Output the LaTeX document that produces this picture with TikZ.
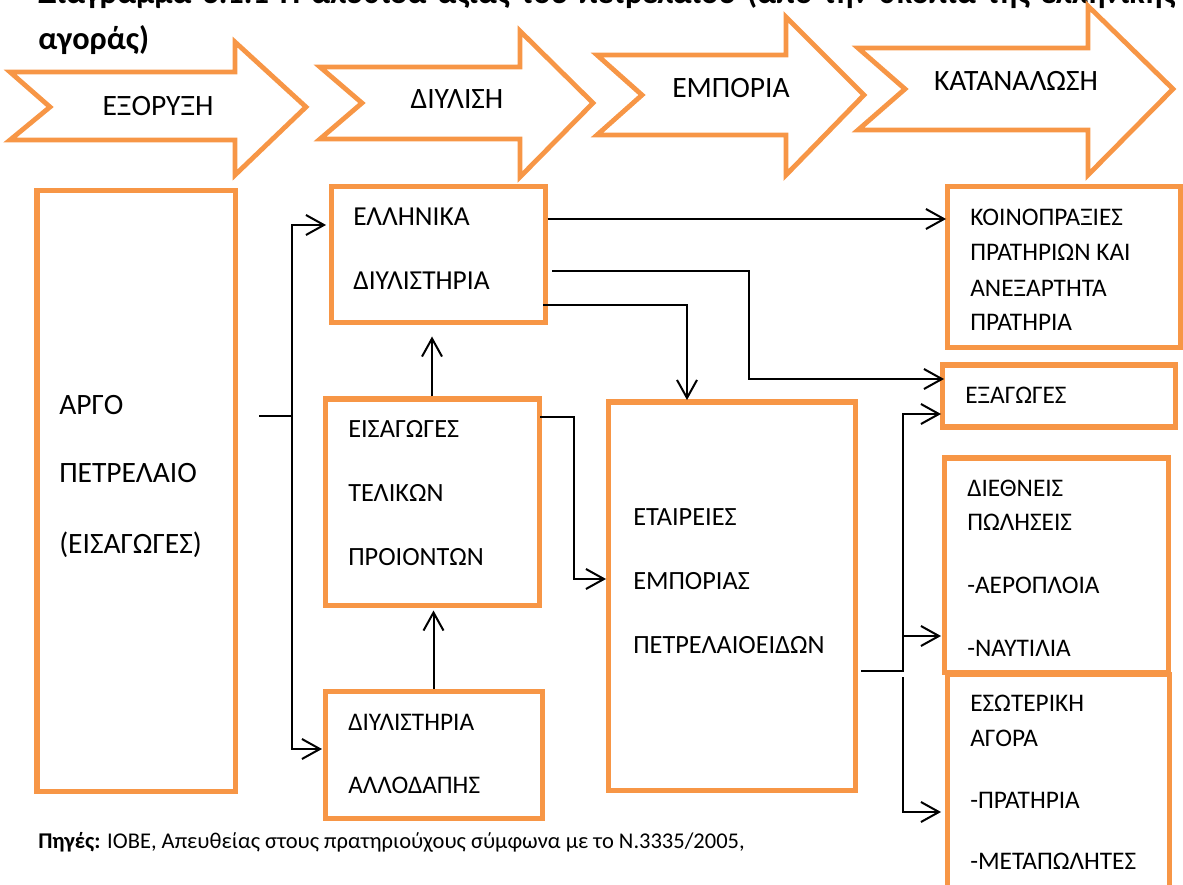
\documentclass[tikz,border=0pt]{standalone}
\usepackage{fontspec}
\setmainfont{Carlito}
\usetikzlibrary{arrows.meta,fit}

\definecolor{boxorange}{HTML}{F79646}
\tikzset{
  box/.style={draw=boxorange, line width=0.125cm, inner sep=0pt},
  stage/.style={draw=boxorange, line width=0.12cm, line join=miter},
  stagename/.style={inner sep=0pt, font=\fontsize{21}{25}\selectfont},
  txt/.style={anchor=west, inner sep=0pt, text height=11.6pt, text depth=0pt, font=\fontsize{#1}{22}\selectfont},
  txt/.default=18,
  wire/.style={line width=0.05cm},
  flow/.style={wire, -{Straight Barb[length=0.45cm, width=0.5cm]}},
}

\begin{document}
\begin{tikzpicture}[x=0.025cm, y=-0.025cm]
  \useasboundingbox (0,0) rectangle (1183,885);

  % Τίτλος
  \node[anchor=base west, inner sep=0pt, font=\fontsize{23}{28}\selectfont\bfseries] (title1) at (38,4)
    {\makebox[28.425cm][s]{Διάγραμμα 3.1.1 Η αλυσίδα αξίας του πετρελαίου (από την σκοπιά της ελληνικής}};
  \node[anchor=base west, inner sep=0pt, font=\fontsize{23}{28}\selectfont\bfseries] (title2) at (38,50) {αγοράς)};

  % Στάδια
  \draw[stage] (10,72) -- (235,72) -- (235,42) -- (306,107) -- (235,175) -- (235,140) -- (10,140) -- (50,107) -- cycle;
  \node[stagename] (st1) at (158,106) {ΕΞΟΡΥΞΗ};
  \draw[stage] (320,67) -- (520,67) -- (520,31) -- (593,103) -- (520,177) -- (520,139) -- (320,139) -- (362,103) -- cycle;
  \node[stagename] (st2) at (457,99) {ΔΙΥΛΙΣΗ};
  \draw[stage] (597,55) -- (786,55) -- (786,17) -- (864,95) -- (786,175) -- (786,135) -- (597,135) -- (642,95) -- cycle;
  \node[stagename] (st3) at (731,88) {ΕΜΠΟΡΙΑ};
  \draw[stage] (858,48) -- (1088,48) -- (1088,6) -- (1173,89) -- (1088,175) -- (1088,130) -- (858,130) -- (905,89) -- cycle;
  \node[stagename] (st4) at (1016,81) {ΚΑΤΑΝΑΛΩΣΗ};

  % Αργό πετρέλαιο
  \node[box, fit={(37,191) (235,791)}] (argo) {};
  \node[txt=21] (argo1) at (59,406) {ΑΡΓΟ};
  \node[txt=21] (argo2) at (59,474) {ΠΕΤΡΕΛΑΙΟ};
  \node[txt=21] (argo3) at (59,545) {(ΕΙΣΑΓΩΓΕΣ)};

  % Διυλιστήρια και εισαγωγές
  \node[box, fit={(331,187) (545,323)}] (ellhn) {};
  \node[txt=19.5] (ellhn1) at (353,217) {ΕΛΛΗΝΙΚΑ};
  \node[txt=19.5] (ellhn2) at (353,281) {ΔΙΥΛΙΣΤΗΡΙΑ};
  \node[box, fit={(325,399) (539,605)}] (eisag) {};
  \node[txt=18.7] (eisag1) at (348,429) {ΕΙΣΑΓΩΓΕΣ};
  \node[txt=18.7] (eisag2) at (348,493) {ΤΕΛΙΚΩΝ};
  \node[txt=18.7] (eisag3) at (348,557) {ΠΡΟΙΟΝΤΩΝ};
  \node[box, fit={(325,691) (542,818)}] (allo) {};
  \node[txt] (allo1) at (348,722) {ΔΙΥΛΙΣΤΗΡΙΑ};
  \node[txt] (allo2) at (348,785) {ΑΛΛΟΔΑΠΗΣ};

  % Εμπορία
  \node[box, fit={(608,402) (855,790)}] (etair) {};
  \node[txt=18.7] (etair1) at (633,517) {ΕΤΑΙΡΕΙΕΣ};
  \node[txt=18.7] (etair2) at (633,581) {ΕΜΠΟΡΙΑΣ};
  \node[txt=18.7] (etair3) at (633,645) {ΠΕΤΡΕΛΑΙΟΕΙΔΩΝ};

  % Κατανάλωση
  \node[box, fit={(947,187) (1180,348)}] (koin) {};
  \node[txt] (koin1) at (970,217) {ΚΟΙΝΟΠΡΑΞΙΕΣ};
  \node[txt] (koin2) at (970,252) {ΠΡΑΤΗΡΙΩΝ ΚΑΙ};
  \node[txt] (koin3) at (970,288) {ΑΝΕΞΑΡΤΗΤΑ};
  \node[txt] (koin4) at (970,322) {ΠΡΑΤΗΡΙΑ};
  \node[box, fit={(942,365) (1175,427)}] (exag) {};
  \node[txt] (exag1) at (965,395) {ΕΞΑΓΩΓΕΣ};
  \node[box, fit={(944,458) (1168,672)}] (dieth) {};
  \node[txt] (dieth1) at (967,488) {ΔΙΕΘΝΕΙΣ};
  \node[txt] (dieth2) at (967,522) {ΠΩΛΗΣΕΙΣ};
  \node[txt] (dieth3) at (967,585) {-ΑΕΡΟΠΛΟΙΑ};
  \node[txt] (dieth4) at (967,648) {-ΝΑΥΤΙΛΙΑ};
  \node[box, fit={(947,674) (1169,905)}] (esot) {};
  \node[txt] (esot1) at (970,703) {ΕΣΩΤΕΡΙΚΗ};
  \node[txt] (esot2) at (970,738) {ΑΓΟΡΑ};
  \node[txt] (esot3) at (970,800) {-ΠΡΑΤΗΡΙΑ};
  \node[txt] (esot4) at (970,861) {-ΜΕΤΑΠΩΛΗΤΕΣ};

  % Συνδέσεις
  \coordinate (argo-out) at (259,416);
  \coordinate (fork1) at (292,416);
  \coordinate (ellhn-in) at (326,225);
  \coordinate (allo-in) at (322,749);
  \draw[wire] (argo-out) -- (fork1);
  \draw[flow] (fork1) |- (ellhn-in);
  \draw[flow] (fork1) |- (allo-in);

  \coordinate (koin-in) at (946,219);
  \coordinate (ellhn-out2) at (552,271);
  \coordinate (exag-in1) at (944,379);
  \coordinate (ellhn-out3) at (543,305);
  \coordinate (etair-in1) at (687,400);
  \draw[flow] (ellhn.east |- koin-in) -- (koin-in);
  \draw[flow] (ellhn-out2) -- ++(197,0) |- (exag-in1);
  \draw[flow] (ellhn-out3) -| (etair-in1);

  \draw[flow] (eisag.north) -- ++(0,-60);
  \draw[flow] (allo.north) -- ++(0,-78);
  \coordinate (eisag-out) at (540,417);
  \coordinate (etair-in2) at (606,579);
  \draw[flow] (eisag-out) -- ++(34,0) |- (etair-in2);

  \coordinate (etair-out) at (861,671);
  \coordinate (exag-in2) at (941,414);
  \coordinate (fork2) at (903,636);
  \coordinate (dieth-in) at (941,636);
  \coordinate (split) at (903,677);
  \coordinate (esot-in) at (941,812);
  \draw[flow] (etair-out) -- ++(42,0) |- (exag-in2);
  \draw[flow] (fork2) -- (dieth-in);
  \draw[flow] (split) |- (esot-in);

  % Πηγές
  \node[anchor=base west, inner sep=0pt, font=\fontsize{16}{20}\selectfont] (source) at (38,848)
    {\textbf{Πηγές:} ΙΟΒΕ, Απευθείας στους πρατηριούχους σύμφωνα με το Ν.3335/2005,};
\end{tikzpicture}
\end{document}
